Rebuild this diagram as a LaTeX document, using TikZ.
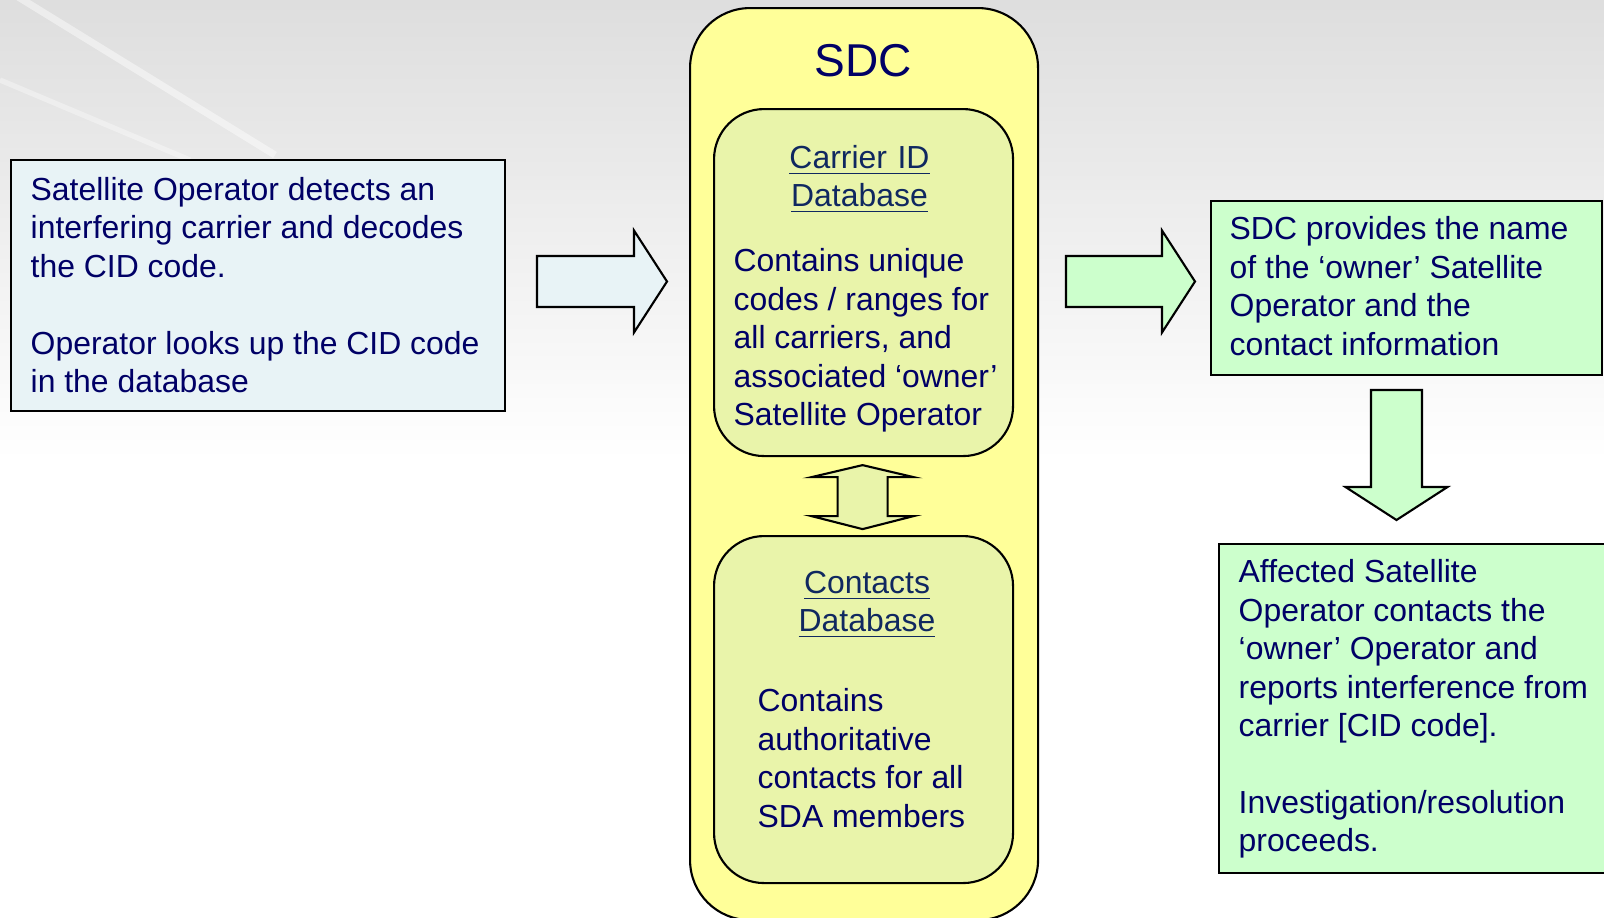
\documentclass[tikz,border=0pt]{standalone}
\usepackage{fontspec}
\setmainfont{Liberation Sans}
\usetikzlibrary{calc}

\definecolor{navy}{RGB}{0,0,102}
\definecolor{titleblue}{RGB}{16,40,96}
\definecolor{sdcyellow}{RGB}{255,255,153}
\definecolor{dbgreen}{RGB}{233,244,170}
\definecolor{paleblue}{RGB}{232,243,246}
\definecolor{palegreen}{RGB}{204,255,204}

% block arrow from tail #1 to tip #2, filled with #3
\newcommand\blockarrow[3]{%
  \coordinate (hb) at ($(#2)!0.33cm!(#1)$);
  \draw[line width=0.6pt, fill=#3]
    ($(#1)!0.255cm!90:(#2)$) -- ($(hb)!0.255cm!90:(#2)$) -- ($(hb)!0.51cm!90:(#2)$)
    -- (#2) -- ($(hb)!0.51cm!-90:(#2)$) -- ($(hb)!0.255cm!-90:(#2)$)
    -- ($(#1)!0.255cm!-90:(#2)$) -- cycle;}

\begin{document}
\begin{tikzpicture}[
    panel/.style={draw=black,line width=0.6pt,rectangle,anchor=north west,inner sep=0pt},
    dbbox/.style={panel,fill=dbgreen,rounded corners=0.5cm,minimum width=2.99cm,minimum height=3.47cm},
    body/.style={text=navy,inner sep=0pt,anchor=base west,align=left,
      font=\fontsize{9.08pt}{10.93pt}\selectfont},
    dbtitle/.style={body,text=titleblue,anchor=base,align=center,text width=2.8cm}]
 \useasboundingbox (0,0) rectangle (16.04,-9.17);
 \clip (0,0) rectangle (16.04,-9.17);
 % background
 \fill[white] (0,0) rectangle (16.04,-9.17);
 \shade[top color=black!13,bottom color=white] (0,0) rectangle (16.04,-4.6);
 \draw[white,line width=2pt,opacity=0.45] (0.15,0.05) -- (2.75,-1.55);
 \draw[white,line width=1.5pt,opacity=0.35] (0,-0.8) -- (1.9,-1.6);

 % boxes
 \node[panel,fill=paleblue,minimum width=4.94cm,minimum height=2.51cm] (detect) at (0.10,-1.59) {};
 \node[panel,fill=sdcyellow,rounded corners=0.6cm,minimum width=3.48cm,minimum height=9.12cm] (sdc) at (6.89,-0.07) {};
 \node[dbbox] (carrier) at (7.13,-1.08) {};
 \node[dbbox] (contacts) at (7.13,-5.35) {};
 \node[panel,fill=palegreen,minimum width=3.91cm,minimum height=1.74cm] (provide) at (12.10,-1.995) {};
 \node[panel,fill=palegreen,minimum width=3.95cm,minimum height=3.29cm] (affected) at (12.18,-5.43) {};

 % texts (base = last line, titles = first line)
 \node[body] (detecttxt) at (0.30,-3.925) {Satellite Operator detects an\\interfering carrier and decodes\\the CID code.\\[10.93pt]Operator looks up the CID code\\in the database};
 \node[text=navy,inner sep=0pt,anchor=base,font=\fontsize{13.1pt}{15pt}\selectfont] (sdctitle) at (8.635,-0.76) {SDC};
 \node[dbtitle] (carriertitle) at (8.595,-1.68) {\underline{Carrier ID}\\\underline{Database}};
 \node[body] (carrierbody) at (7.33,-4.256) {Contains unique\\codes / ranges for\\all carriers, and\\associated ‘owner’\\Satellite Operator};
 \node[dbtitle] (contactstitle) at (8.67,-5.93) {\underline{Contacts}\\\underline{Database}};
 \node[body] (contactsbody) at (7.57,-8.272) {Contains\\authoritative\\contacts for all\\SDA members};
 \node[body] (providetxt) at (12.29,-3.552) {SDC provides the name\\of the ‘owner’ Satellite\\Operator and the\\contact information};
 \node[body] (affectedtxt) at (12.38,-8.518) {Affected Satellite\\Operator contacts the\\‘owner’ Operator and\\reports interference from\\carrier [CID code].\\[10.93pt]Investigation/resolution\\proceeds.};

 % arrows
 \coordinate (a1t) at (5.37,-2.815);
 \coordinate (a1h) at (6.67,-2.815);
 \blockarrow{a1t}{a1h}{paleblue}
 \coordinate (a2t) at (10.66,-2.815);
 \coordinate (a2h) at (11.95,-2.815);
 \blockarrow{a2t}{a2h}{palegreen}
 \coordinate (a3t) at (13.965,-3.90);
 \coordinate (a3h) at (13.965,-5.20);
 \blockarrow{a3t}{a3h}{palegreen}
 \draw[line width=0.6pt,fill=dbgreen] ($(carrier.south)+(-0.01,-0.08)$)
   -- ++(0.51,-0.12) -- ++(-0.26,0) -- ++(0,-0.39) -- ++(0.26,0)
   -- ++(-0.51,-0.13) -- ++(-0.51,0.13) -- ++(0.26,0) -- ++(0,0.39)
   -- ++(-0.26,0) -- cycle;
\end{tikzpicture}
\end{document}
